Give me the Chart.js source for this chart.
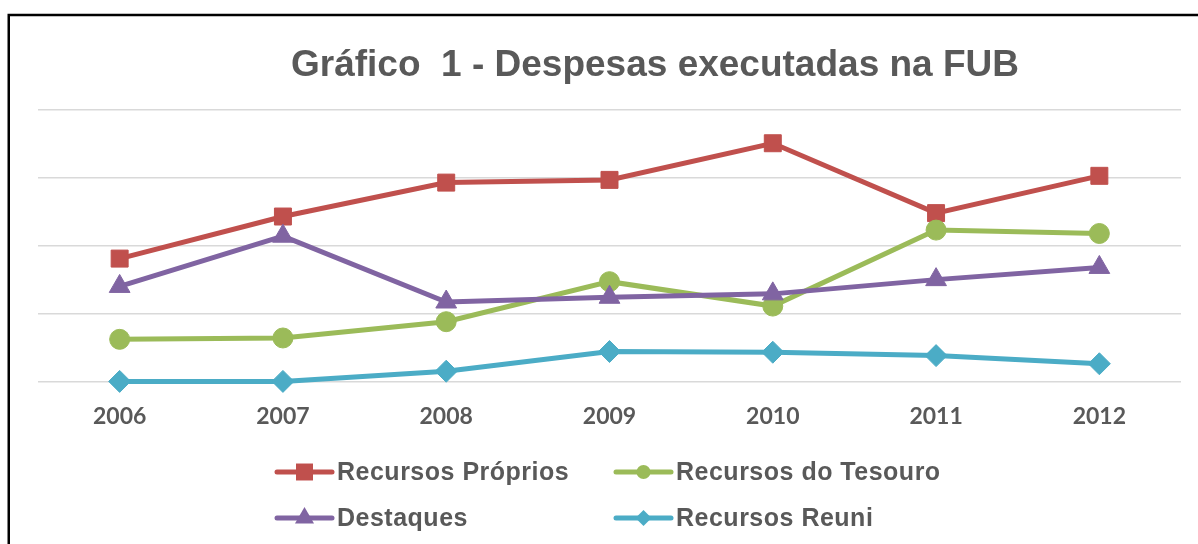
<!DOCTYPE html>
<html lang="pt-BR">
<head>
  <meta charset="UTF-8">
  <title>Gráfico 1 - Despesas executadas na FUB</title>
  <script src="https://cdn.jsdelivr.net/npm/chart.js"></script>
  <style>
    html, body {
      margin: 0;
      padding: 0;
      background: #ffffff;
      overflow: hidden;
    }
    canvas {
      display: block;
    }
  </style>
</head>
<body>

  <canvas id="graficoFub" width="1198" height="544"></canvas>

  <script>
    // dados (escala sem rótulos, valores relativos)
    const anos = ['2006', '2007', '2008', '2009', '2010', '2011', '2012'];
    const recursosProprios = [181, 243, 293, 297, 351, 248, 303];
    const recursosTesouro = [62, 64, 88, 147, 111, 223, 218];
    const destaques = [140, 214, 117, 124, 129, 150, 168];
    const recursosReuni = [0, 0, 15, 44, 43, 38, 26];
    const nomesSeries = ['Recursos Próprios', 'Recursos do Tesouro', 'Destaques', 'Recursos Reuni'];
    const titulo = 'Gráfico  1 - Despesas executadas na FUB';

    const cinzaTexto = '#595959';

    // moldura preta em volta do gráfico
    const moldura = {
      id: 'moldura',
      afterDraw(chart) {
        const ctx = chart.ctx;
        ctx.save();
        ctx.strokeStyle = '#000';
        ctx.lineWidth = 2.5;
        ctx.strokeRect(8.75, 15, 1400, 1000);
        ctx.restore();
      }
    };

    // título centralizado como no original
    const tituloPlugin = {
      id: 'tituloFub',
      afterDraw(chart) {
        const ctx = chart.ctx;
        ctx.save();
        ctx.font = 'bold 37px "Liberation Sans", Arial, sans-serif';
        ctx.fillStyle = cinzaTexto;
        ctx.textAlign = 'center';
        ctx.textBaseline = 'alphabetic';
        ctx.fillText(titulo, 655, 76);
        ctx.restore();
      }
    };

    // legenda em duas linhas, traço com marcador no meio
    const raioLegenda = { rect: 12, circle: 7, triangle: 11, rectRot: 8 };
    const legenda = {
      id: 'legenda',
      afterDraw(chart) {
        const ctx = chart.ctx;
        const colunas = [277, 616];
        const linhas = [472, 518];
        chart.data.datasets.forEach((ds, i) => {
          const x = colunas[i % 2];
          const y = linhas[Math.floor(i / 2)];
          ctx.save();
          ctx.strokeStyle = ds.borderColor;
          ctx.fillStyle = ds.borderColor;
          ctx.lineWidth = 5;
          ctx.lineCap = 'round';
          ctx.beginPath();
          ctx.moveTo(x, y);
          ctx.lineTo(x + 55, y);
          ctx.stroke();
          Chart.helpers.drawPoint(ctx, {
            pointStyle: ds.pointStyle,
            radius: raioLegenda[ds.pointStyle],
            rotation: 0,
            borderWidth: 0
          }, x + 27.5, y);
          ctx.font = 'bold 25px "Liberation Sans", Arial, sans-serif';
          ctx.letterSpacing = '0.5px';
          ctx.fillStyle = cinzaTexto;
          ctx.textAlign = 'left';
          ctx.textBaseline = 'middle';
          ctx.fillText(ds.label, x + 60, y + 1);
          ctx.restore();
        });
      }
    };

    function serie(nome, valores, cor, estilo, raio, ordem) {
      return {
        label: nome,
        data: valores,
        borderColor: cor,
        backgroundColor: cor,
        borderWidth: 5,
        pointStyle: estilo,
        pointRadius: raio,
        pointHoverRadius: raio,
        pointBackgroundColor: cor,
        pointBorderColor: cor,
        pointBorderWidth: 1,
        tension: 0,
        fill: false,
        clip: false,
        order: ordem
      };
    }

    const ctx = document.getElementById('graficoFub').getContext('2d');

    new Chart(ctx, {
      type: 'line',
      data: {
        labels: anos,
        datasets: [
          serie(nomesSeries[0], recursosProprios, '#c0504d', 'rect', 12, 4),
          serie(nomesSeries[1], recursosTesouro, '#9bbb59', 'circle', 10, 3),
          serie(nomesSeries[2], destaques, '#8064a2', 'triangle', 12, 2),
          serie(nomesSeries[3], recursosReuni, '#4bacc6', 'rectRot', 11, 1)
        ]
      },
      options: {
        responsive: false,
        animation: false,
        layout: {
          padding: { left: 38, right: 17, top: 110, bottom: 93 }
        },
        plugins: {
          legend: { display: false },
          title: { display: false },
          tooltip: { enabled: false }
        },
        scales: {
          x: {
            offset: true,
            grid: { display: false, drawTicks: false },
            border: { display: false },
            ticks: {
              color: cinzaTexto,
              padding: 21,
              font: { family: 'Lato, "Open Sans", sans-serif', size: 23, weight: 'bold' }
            }
          },
          y: {
            min: 0,
            max: 400,
            ticks: { display: false, stepSize: 100 },
            grid: { color: '#d9d9d9', lineWidth: 1.5, drawTicks: false },
            border: { display: false }
          }
        }
      },
      plugins: [moldura, tituloPlugin, legenda]
    });
  </script>

</body>
</html>
